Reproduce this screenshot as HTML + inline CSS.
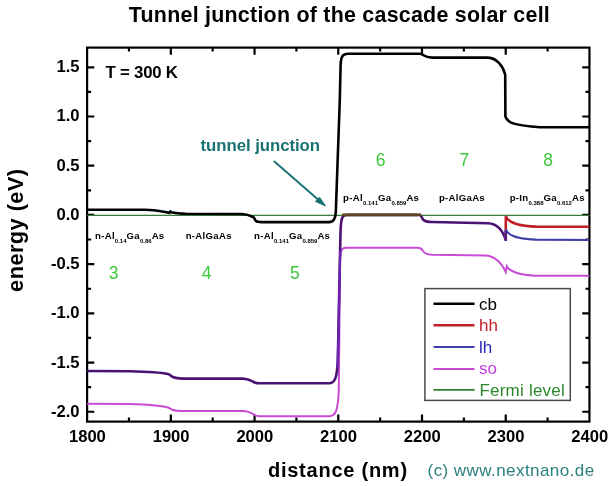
<!DOCTYPE html>
<html><head><meta charset="utf-8">
<style>
html,body{margin:0;padding:0;background:#fff;}
svg{display:block;will-change:transform;}
text{font-family:"Liberation Sans",sans-serif;}
.tk{font-size:16.6px;font-weight:bold;fill:#000;}
.lab{font-size:9.6px;font-weight:bold;fill:#000;letter-spacing:0.3px;}
.sub{font-size:6px;font-weight:bold;letter-spacing:0;}
.num{font-size:17.5px;fill:#3cc83c;}
.leg{font-size:17px;}
</style></head>
<body>
<svg width="615" height="486" viewBox="0 0 615 486">
<rect width="615" height="486" fill="#fff"/>
<text x="128.8" y="21.5" font-size="21.4" font-weight="bold" textLength="421" lengthAdjust="spacing">Tunnel junction of the cascade solar cell</text>
<text transform="translate(22.8,291.9) rotate(-90)" font-size="21.8" font-weight="bold" textLength="123" lengthAdjust="spacing">energy (eV)</text>
<text x="267.9" y="476.5" font-size="20" font-weight="bold" textLength="139.2" lengthAdjust="spacing">distance (nm)</text>
<text x="427.6" y="476.3" font-size="17" fill="#2a807e" textLength="166.5" lengthAdjust="spacing">(c) www.nextnano.de</text>
<rect x="87.1" y="47.6" width="502.35" height="374" fill="none" stroke="#000" stroke-width="2.2"/>
<path d="M128.96,421.6v-4M128.96,47.6v4M170.82,421.6v-7.2M170.82,47.6v7.2M212.69,421.6v-4M212.69,47.6v4M254.55,421.6v-7.2M254.55,47.6v7.2M296.41,421.6v-4M296.41,47.6v4M338.27,421.6v-7.2M338.27,47.6v7.2M380.14,421.6v-4M380.14,47.6v4M422.00,421.6v-7.2M422.00,47.6v7.2M463.86,421.6v-4M463.86,47.6v4M505.73,421.6v-7.2M505.73,47.6v7.2M547.59,421.6v-4M547.59,47.6v4M87.1,411.75h7.2M589.45,411.75h-7.2M87.1,387.15h4M589.45,387.15h-4M87.1,362.54h7.2M589.45,362.54h-7.2M87.1,337.94h4M589.45,337.94h-4M87.1,313.33h7.2M589.45,313.33h-7.2M87.1,288.73h4M589.45,288.73h-4M87.1,264.12h7.2M589.45,264.12h-7.2M87.1,239.52h4M589.45,239.52h-4M87.1,214.91h7.2M589.45,214.91h-7.2M87.1,190.31h4M589.45,190.31h-4M87.1,165.70h7.2M589.45,165.70h-7.2M87.1,141.10h4M589.45,141.10h-4M87.1,116.49h7.2M589.45,116.49h-7.2M87.1,91.89h4M589.45,91.89h-4M87.1,67.28h7.2M589.45,67.28h-7.2" stroke="#000" stroke-width="2.2" fill="none"/>
<text x="87.40" y="442.3" text-anchor="middle" class="tk">1800</text>
<text x="171.12" y="442.3" text-anchor="middle" class="tk">1900</text>
<text x="254.85" y="442.3" text-anchor="middle" class="tk">2000</text>
<text x="338.57" y="442.3" text-anchor="middle" class="tk">2100</text>
<text x="422.30" y="442.3" text-anchor="middle" class="tk">2200</text>
<text x="506.03" y="442.3" text-anchor="middle" class="tk">2300</text>
<text x="589.75" y="442.3" text-anchor="middle" class="tk">2400</text>
<text x="79.5" y="72.28" text-anchor="end" class="tk">1.5</text>
<text x="79.5" y="121.49" text-anchor="end" class="tk">1.0</text>
<text x="79.5" y="170.70" text-anchor="end" class="tk">0.5</text>
<text x="79.5" y="219.91" text-anchor="end" class="tk">0.0</text>
<text x="79.5" y="269.12" text-anchor="end" class="tk">-0.5</text>
<text x="79.5" y="318.33" text-anchor="end" class="tk">-1.0</text>
<text x="79.5" y="367.54" text-anchor="end" class="tk">-1.5</text>
<text x="79.5" y="416.75" text-anchor="end" class="tk">-2.0</text>
<!-- fermi -->
<path d="M87.1,215.4H589.4" stroke="#3a7c3a" stroke-width="1.3" fill="none"/>
<!-- so -->
<path d="M87.1,403.8L130,404C150,404.5 162,406 168,407.5C170.5,408.3 171,409.5 173,410C175,410.7 177,410.9 183,411L242,411C249,411.2 252,413 254.5,415C256,416 257,416.2 260,416.2L329,416.2C336,416.2 338,410 338.8,390L340,260C340.5,250 341.5,247.8 346,247.8L418,247.8C421,247.8 422,249 423,251C425,254 427,254.6 432,254.8L486,255.5C496,256.5 502,264 505.8,272L506.8,266.3C510,272 520,275 536,275.7L589.4,275.7" stroke="#c84cd4" stroke-width="2" fill="none"/>
<!-- hh/lh overlapped -->
<path d="M87.1,371L130,371.3C150,371.8 162,372.8 168,374C170.5,374.8 171,376.2 173,377C175,378 177,378.5 183,378.6L243,378.6C249,378.8 251,380.5 254,382.3C256,383.2 257,383.3 260,383.3L329,383.3C335,383.3 337,378 337.8,360L340.5,232C341,218 342,214.9 347,214.9L418,214.9" stroke="#4a1272" stroke-width="2.6" fill="none"/>
<path d="M419,214.8C421.5,215 421.8,218 423,219.5C425,221.6 427,222 432,222L488,223.3C496,223.6 502,228 505.8,240.2" stroke="#4a1272" stroke-width="2.6" fill="none"/>
<path d="M337.7,368L337.8,360L340.2,250" stroke="#6c24b4" stroke-width="2.2" fill="none"/>
<path d="M342,214.9L421,214.9" stroke="#5e4623" stroke-width="2.7" fill="none"/>
<!-- hh -->
<path d="M505.8,239.9L505.8,216.2C508,222 518,226 536,226.6L589.4,226.7" stroke="#c01f27" stroke-width="2.6" fill="none"/>
<!-- lh -->
<path d="M505.8,240.5L505.8,229.7C508,235 518,239 536,239.7L589.4,240" stroke="#3f3fa8" stroke-width="2.2" fill="none"/>
<path d="M505.8,241L505.8,231" stroke="#501a80" stroke-width="2.4" fill="none"/>
<!-- cb -->
<path d="M87.1,209.8L145,209.8C152,209.9 158,210.8 165,212L169.6,212.9L170.4,211.4L171.2,212.2C174,212.8 179,213.5 186,213.8L242,214.0C247,214.2 250,215.5 253,217C255,218 254.6,220 256,221C257,221.9 259,222.1 262,222.1L329,222.1C333.5,222.1 335.6,218.5 335.8,212L339.8,100L340.6,65C341,56 343,53.7 348,53.7L420,53.7C423,53.7 424,57.6 432,57.6L488,57.6C497,58 503,66 505.2,74.6L505.4,116.3C507,123 515,125.5 540,127.2L589.4,127.2" stroke="#000" stroke-width="2.6" fill="none" stroke-linejoin="round"/>
<!-- annotations -->
<text x="105.6" y="78" font-size="16.8" font-weight="bold" textLength="72.3" lengthAdjust="spacing">T = 300 K</text>
<text x="200.6" y="150.8" font-size="16.8" font-weight="bold" fill="#1b7272" textLength="119.4" lengthAdjust="spacing">tunnel junction</text>
<path d="M274.4,161.5L318,199.5" stroke="#1b7272" stroke-width="2" fill="none" stroke-linecap="round"/>
<path d="M325.2,205.8L315.9,201.4L319.5,197.6Z" fill="#1b7272" stroke="#1b7272" stroke-width="1.2" stroke-linejoin="round"/>
<!-- region numbers -->
<text x="108.8" y="279" class="num">3</text>
<text x="201.8" y="278.7" class="num">4</text>
<text x="290" y="278.7" class="num">5</text>
<text x="375.8" y="165.6" class="num">6</text>
<text x="459.5" y="165.6" class="num">7</text>
<text x="543.2" y="165.6" class="num">8</text>
<!-- region labels -->
<text x="95" y="238.7" class="lab">n-Al<tspan class="sub" dy="4.2">0.14</tspan><tspan dy="-4.2">Ga</tspan><tspan class="sub" dy="4.2">0.86</tspan><tspan dy="-4.2">As</tspan></text>
<text x="185.7" y="238.7" class="lab">n-AlGaAs</text>
<text x="254.1" y="238.7" class="lab">n-Al<tspan class="sub" dy="4.2">0.141</tspan><tspan dy="-4.2">Ga</tspan><tspan class="sub" dy="4.2">0.859</tspan><tspan dy="-4.2">As</tspan></text>
<text x="343.1" y="201.1" class="lab">p-Al<tspan class="sub" dy="4.2">0.141</tspan><tspan dy="-4.2">Ga</tspan><tspan class="sub" dy="4.2">0.859</tspan><tspan dy="-4.2">As</tspan></text>
<text x="438.9" y="201.1" class="lab">p-AlGaAs</text>
<text x="509.7" y="201.1" class="lab">p-In<tspan class="sub" dy="4.2">0.388</tspan><tspan dy="-4.2">Ga</tspan><tspan class="sub" dy="4.2">0.612</tspan><tspan dy="-4.2">As</tspan></text>
<!-- legend -->
<rect x="424.9" y="288.6" width="145.4" height="111.8" fill="#fff" stroke="#4a4a4a" stroke-width="1.5"/>
<path d="M433.5,303.7H474.5" stroke="#000" stroke-width="2.6"/>
<path d="M433.5,325.2H474.5" stroke="#c01f27" stroke-width="2.4"/>
<path d="M433.5,346.9H474.5" stroke="#3f3fa8" stroke-width="2"/>
<path d="M433.5,369H474.5" stroke="#c84cd4" stroke-width="2"/>
<path d="M433.5,389.9H474.5" stroke="#2f7f2f" stroke-width="1.6"/>
<text x="479" y="309.7" class="leg" fill="#000">cb</text>
<text x="479" y="331" class="leg" fill="#c02028">hh</text>
<text x="479" y="352.5" class="leg" fill="#2828b0">lh</text>
<text x="479" y="374" class="leg" fill="#c040e0">so</text>
<text x="479.4" y="395.6" class="leg" fill="#2a8a2a" textLength="85.4" lengthAdjust="spacing">Fermi level</text>
</svg>
</body></html>
